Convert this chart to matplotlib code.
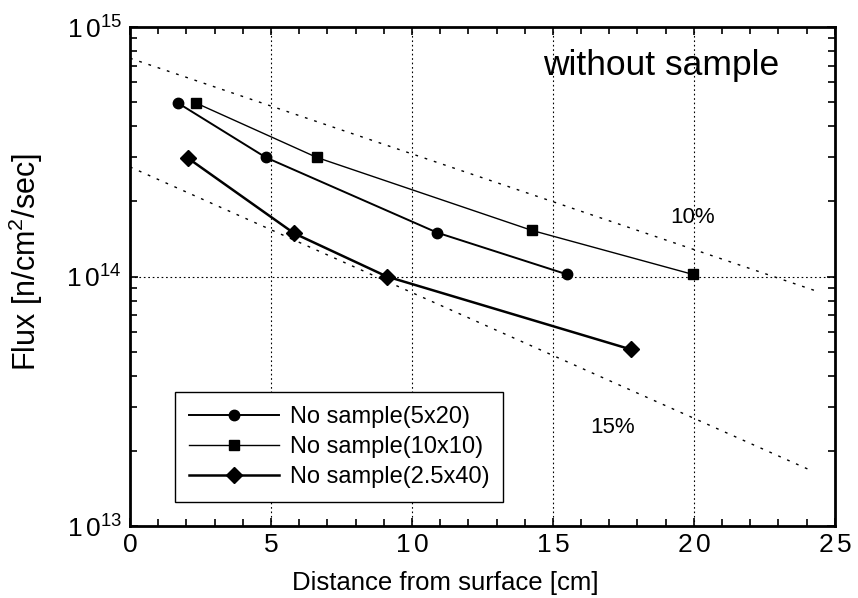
import matplotlib
matplotlib.use('Agg')
import matplotlib.pyplot as plt
from matplotlib.ticker import LogLocator, NullFormatter, MultipleLocator

plt.rcParams['font.family'] = ['Liberation Sans', 'DejaVu Sans']
plt.rcParams['mathtext.fontset'] = 'custom'
plt.rcParams['mathtext.rm'] = 'Liberation Sans'
plt.rcParams['mathtext.it'] = 'Liberation Sans'

# --- data ---
circ_x = [1.70, 4.82, 10.89, 15.5]
circ_y = [4.96e14, 3.0e14, 1.5e14, 1.02e14]

sq_x = [2.34, 6.63, 14.26, 19.96]
sq_y = [4.96e14, 3.0e14, 1.53e14, 1.02e14]

dia_x = [2.06, 5.82, 9.11, 17.77]
dia_y = [2.98e14, 1.49e14, 1.0e14, 5.1e13]

ref10_x = [0, 24.4]
ref10_y = [7.5e14, 8.7e13]
ref15_x = [0, 24.1]
ref15_y = [2.75e14, 1.68e13]

labels = ['No sample(5x20)', 'No sample(10x10)', 'No sample(2.5x40)']
x_ticks = [0, 5, 10, 15, 20, 25]
x_ticklabels = ['0', '5', r'$\mathregular{1\,0}$', r'$\mathregular{1\,5}$',
                r'$\mathregular{2\,0}$', r'$\mathregular{2\,5}$']
y_ticks = [1e13, 1e14, 1e15]
y_ticklabels = [r'$\mathregular{1\,0^{13}}$', r'$\mathregular{1\,0^{14}}$',
                r'$\mathregular{1\,0^{15}}$']

fig = plt.figure(figsize=(8.58, 5.98), dpi=100)
ax = fig.add_axes([0.1515, 0.1204, 0.8215, 0.8344])

ax.set_yscale('log')
ax.set_xlim(0, 25)
ax.set_ylim(1e13, 1e15)

# dotted reference lines
ax.plot(ref10_x, ref10_y, color='black', lw=1.0, linestyle=(0, (2, 5)))
ax.plot(ref15_x, ref15_y, color='black', lw=1.0, linestyle=(0, (2, 5)))

ax.plot(circ_x, circ_y, color='black', lw=1.4, marker='o', markersize=7.5, label=labels[0])
ax.plot(sq_x, sq_y, color='black', lw=1.0, marker='s', markersize=7.5, label=labels[1])
ax.plot(dia_x, dia_y, color='black', lw=1.8, marker='D', markersize=8.5, label=labels[2])

ax.text(19.96, 1.73e14, '10%', ha='center', va='center', fontsize=16)
ax.text(17.1, 2.48e13, '15%', ha='center', va='center', fontsize=16)
ax.text(0.586, 0.904, 'without sample', transform=ax.transAxes,
        ha='left', va='baseline', fontsize=25.5)

# ticks
ax.set_xticks(x_ticks)
ax.set_xticklabels(x_ticklabels)
ax.xaxis.set_minor_locator(MultipleLocator(1))
ax.set_yticks(y_ticks)
ax.set_yticklabels(y_ticklabels)
ax.yaxis.set_minor_locator(LogLocator(base=10, subs=range(2, 10)))
ax.yaxis.set_minor_formatter(NullFormatter())
ax.tick_params(which='both', direction='in', top=True, right=True, width=1.2)
ax.tick_params(which='major', length=6, labelsize=19)
ax.tick_params(axis='x', which='major', pad=5)
ax.tick_params(axis='y', which='major', pad=6)
ax.tick_params(which='minor', length=5)

ax.grid(True, which='major', color='black', linestyle=(0, (1.5, 2.5)), linewidth=0.8)

for sp in ax.spines.values():
    sp.set_linewidth(2)

ax.set_xlabel('Distance from surface [cm]', fontsize=18.5)
ax.xaxis.set_label_coords(0.448, -0.09)
ax.set_ylabel(r'Flux [n/cm$^\mathregular{2}$/sec]', fontsize=22)
ax.yaxis.set_label_coords(-0.12, 0.53)

leg = ax.legend(loc='lower left', bbox_to_anchor=(0.064, 0.048), borderaxespad=0,
                fontsize=17, frameon=True, fancybox=False, edgecolor='black',
                framealpha=1, handlelength=3.8, handletextpad=0.45,
                labelspacing=0.33, borderpad=0.6, numpoints=1)
leg.get_frame().set_linewidth(1.0)

fig.savefig('out.png', dpi=100)
